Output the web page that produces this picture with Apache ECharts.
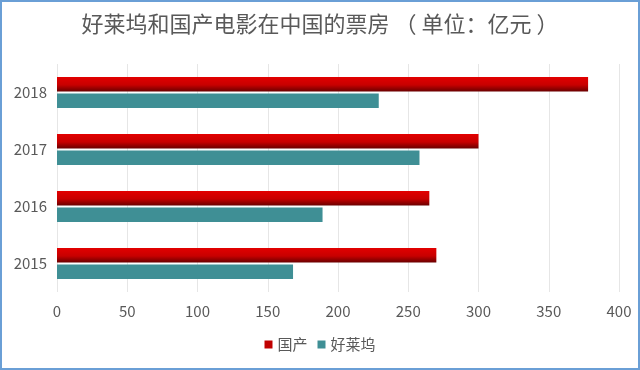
<!DOCTYPE html>
<html>
<head>
<meta charset="utf-8">
<script src="https://cdn.jsdelivr.net/npm/echarts@6/dist/echarts.min.js"></script>
<style>
html,body{margin:0;padding:0;background:#fff;}
#wrap{position:relative;width:640px;height:370px;}
#chart{width:640px;height:370px;}
#frame{position:absolute;left:0;top:0;width:640px;height:370px;box-sizing:border-box;border:2px solid #6a9fd6;pointer-events:none;}
</style>
</head>
<body>
<div id="wrap"><div id="chart"></div><div id="frame"></div></div>
<script>
const titleText = '好莱坞和国产电影在中国的票房 （ 单位：亿元 ）';
const years = ['2015', '2016', '2017', '2018'];
const domestic = [270, 265, 300, 378];
const hollywood = [168, 189, 258, 229];
const xTicks = [0, 50, 100, 150, 200, 250, 300, 350, 400];

const font = '"Noto Sans CJK SC", "Noto Sans", sans-serif';
const chart = echarts.init(document.getElementById('chart'), null, {renderer: 'canvas'});
const redGrad = new echarts.graphic.LinearGradient(0, 0, 0, 1, [
  {offset: 0, color: '#e20000'},
  {offset: 0.55, color: '#c80000'},
  {offset: 1, color: '#6a0000'}
]);
chart.setOption({
  animation: false,
  backgroundColor: '#fff',
  title: {
    text: titleText,
    left: 'center',
    top: 8,
    textStyle: {fontFamily: font, fontSize: 22, fontWeight: 'normal', color: '#595959'}
  },
  legend: {
    data: [{name: '国产', itemStyle: {color: '#c00000'}}, {name: '好莱坞', itemStyle: {color: '#3f8f95'}}],
    bottom: 13,
    left: 'center',
    itemWidth: 8,
    itemHeight: 8,
    itemGap: 10,
    icon: 'rect',
    textStyle: {fontFamily: font, fontSize: 15, color: '#595959'}
  },
  grid: {left: 57, right: 21, top: 64, bottom: 78, containLabel: false},
  xAxis: {
    type: 'value',
    min: xTicks[0],
    max: xTicks[xTicks.length - 1],
    interval: 50,
    axisLine: {show: false},
    axisTick: {show: false},
    splitLine: {lineStyle: {color: '#e6e6e6', width: 1}},
    axisLabel: {margin: 12, fontFamily: font, fontSize: 15, color: '#595959'}
  },
  yAxis: {
    type: 'category',
    data: years,
    axisLine: {show: false},
    axisTick: {show: false},
    axisLabel: {margin: 10, fontFamily: font, fontSize: 15, color: '#595959'}
  },
  series: [
    {
      name: '国产', type: 'bar', data: domestic,
      barWidth: 14.5, barGap: '14%',
      itemStyle: {color: redGrad}
    },
    {
      name: '好莱坞', type: 'bar', data: hollywood,
      barWidth: 14.5, barGap: '14%',
      itemStyle: {color: '#3f8f95'}
    }
  ]
});
</script>
</body>
</html>
